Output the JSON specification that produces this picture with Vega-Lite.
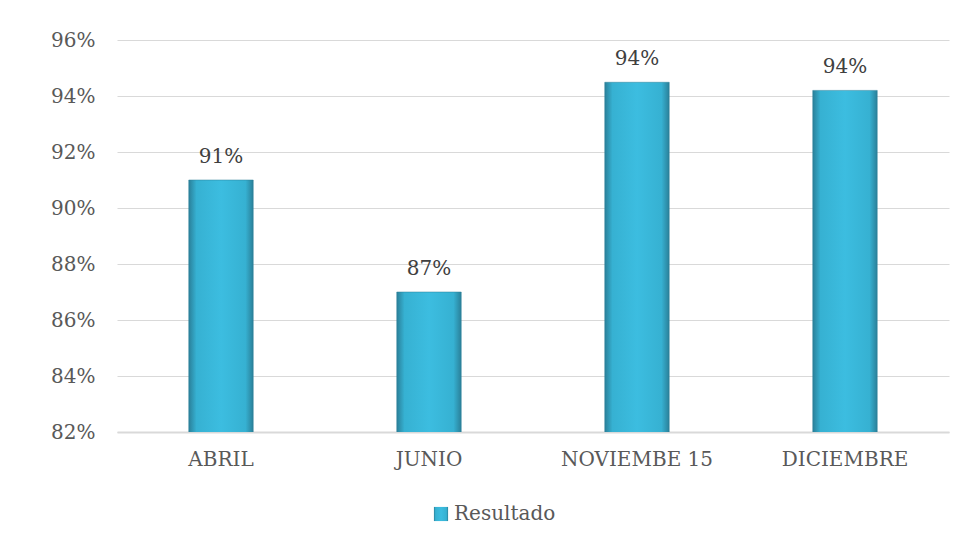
{
  "$schema": "https://vega.github.io/schema/vega-lite/v6.json",
  "width": 832,
  "height": 392,
  "autosize": {"type": "none"},
  "padding": {"left": 117, "top": 40, "right": 8, "bottom": 114},
  "background": "white",
  "config": {
    "view": {"stroke": null},
    "font": "DejaVu Serif"
  },
  "data": {
    "values": [
      {"mes": "ABRIL", "valor": 0.91, "serie": "Resultado"},
      {"mes": "JUNIO", "valor": 0.87, "serie": "Resultado"},
      {"mes": "NOVIEMBE 15", "valor": 0.9449, "serie": "Resultado"},
      {"mes": "DICIEMBRE", "valor": 0.942, "serie": "Resultado"}
    ]
  },
  "encoding": {
    "x": {
      "field": "mes",
      "type": "nominal",
      "sort": null,
      "scale": {"paddingInner": 0.69, "paddingOuter": 0.345},
      "axis": {
        "title": null,
        "labelAngle": 0,
        "labelFont": "DejaVu Serif",
        "labelFontSize": 20,
        "labelColor": "#595959",
        "labelPadding": 17,
        "ticks": false,
        "domainColor": "#d9d9d9",
        "domainWidth": 2,
        "grid": false
      }
    },
    "y": {
      "field": "valor",
      "type": "quantitative",
      "scale": {"domain": [0.82, 0.96], "zero": false, "nice": false},
      "axis": {
        "title": null,
        "values": [0.82, 0.84, 0.86, 0.88, 0.9, 0.92, 0.94, 0.96],
        "format": ".0%",
        "labelFont": "DejaVu Serif",
        "labelFontSize": 20,
        "labelColor": "#595959",
        "labelPadding": 22,
        "ticks": false,
        "domain": false,
        "gridColor": "#d9d9d9",
        "gridWidth": 1
      }
    }
  },
  "layer": [
    {
      "mark": {
        "type": "bar",
        "clip": true,
        "stroke": "#2a7f96",
        "strokeWidth": 0.5,
        "fill": {"gradient": "linear", "x1": 0, "y1": 0, "x2": 1, "y2": 0, "stops": [{"offset": 0, "color": "#2a8099"}, {"offset": 0.12, "color": "#36b1d2"}, {"offset": 0.5, "color": "#3cbde0"}, {"offset": 0.88, "color": "#36b1d2"}, {"offset": 1, "color": "#2a8099"}]}
      },
      "encoding": {
        "opacity": {
          "field": "serie",
          "type": "ordinal",
          "scale": {"range": [1]},
          "legend": {
            "title": null,
            "orient": "none",
            "legendX": 314,
            "legendY": 464,
            "symbolType": "square",
            "symbolSize": 200,
            "symbolFillColor": "#37b6d8",
            "symbolStrokeColor": "#2a7f96",
            "symbolStrokeWidth": 1,
            "labelFont": "DejaVu Serif",
            "labelFontSize": 20,
            "labelColor": "#595959",
            "labelOffset": 3,
            "padding": 0
          }
        }
      }
    },
    {
      "mark": {
        "type": "text",
        "baseline": "bottom",
        "dy": -13,
        "font": "DejaVu Serif",
        "fontSize": 20,
        "color": "#404040"
      },
      "encoding": {
        "text": {"field": "valor", "type": "quantitative", "format": ".0%"}
      }
    }
  ]
}
